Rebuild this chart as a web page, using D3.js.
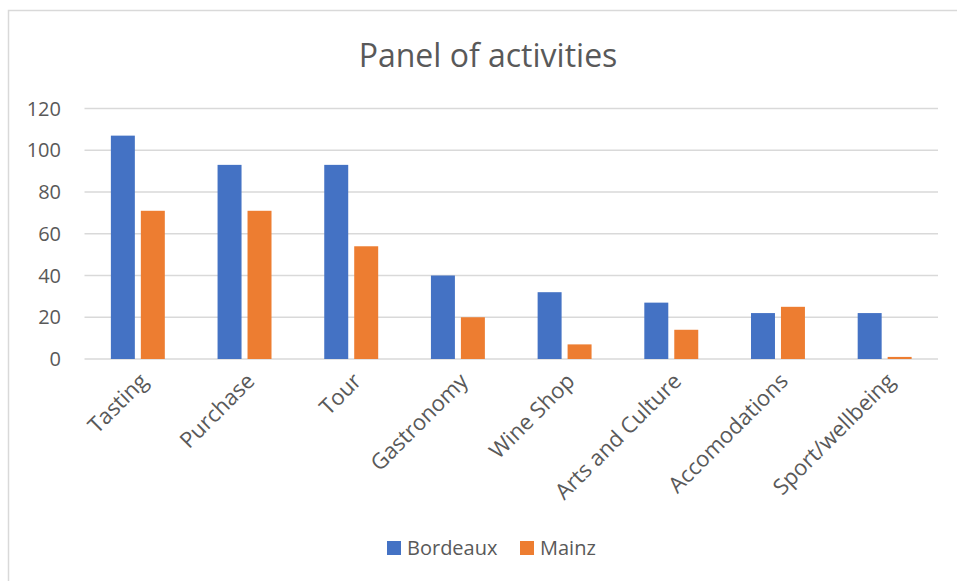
<!DOCTYPE html>
<html>
<head>
<meta charset="utf-8">
<script src="https://cdn.jsdelivr.net/npm/d3@7"></script>
<style>
  body { margin: 0; background: #fff; }
  svg { display: block; font-family: "Open Sans", sans-serif; }
</style>
</head>
<body>
<svg id="chart" width="957" height="581"></svg>
<script>
// données
const categories = ["Tasting", "Purchase", "Tour", "Gastronomy", "Wine Shop", "Arts and Culture", "Accomodations", "Sport/wellbeing"];
const series = ["Bordeaux", "Mainz"];
const bordeaux = [107, 93, 93, 40, 32, 27, 22, 22];
const mainz = [71, 71, 54, 20, 7, 14, 25, 1];
const yTicks = [0, 20, 40, 60, 80, 100, 120];
const colors = ["#4472c4", "#ed7d31"];

const svg = d3.select("#chart");
const textColor = "#595959";
const gridColor = "#d9d9d9";

// cadre du graphique
svg.append("rect")
  .attr("x", 8.5).attr("y", 10.5)
  .attr("width", 960).attr("height", 580)
  .attr("fill", "#fff")
  .attr("stroke", gridColor)
  .attr("stroke-width", 1.5);

svg.append("text")
  .attr("x", 488).attr("y", 67)
  .attr("text-anchor", "middle")
  .attr("fill", textColor)
  .style("font-size", "32px")
  .text("Panel of activities");

const x0 = d3.scaleBand().domain(categories).range([84.5, 938]);
const x1 = d3.scaleBand().domain(series).range([0, x0.bandwidth()]).paddingInner(0.2).paddingOuter(0.88);
const y = d3.scaleLinear().domain([0, 120]).range([359, 108.5]);

// grille horizontale
svg.append("g")
  .selectAll("line")
  .data(yTicks)
  .join("line")
  .attr("x1", 84.5).attr("x2", 938)
  .attr("y1", d => y(d)).attr("y2", d => y(d))
  .attr("stroke", gridColor)
  .attr("stroke-width", 1.5);

svg.append("g")
  .selectAll("text")
  .data(yTicks)
  .join("text")
  .attr("x", 61).attr("y", d => y(d))
  .attr("dy", "0.35em")
  .attr("text-anchor", "end")
  .attr("fill", textColor)
  .style("font-size", "20px")
  .text(d => d);

const rows = categories.map((c, i) => ({ cat: c, values: [bordeaux[i], mainz[i]] }));

svg.append("g")
  .selectAll("g")
  .data(rows)
  .join("g")
  .attr("transform", d => `translate(${x0(d.cat)},0)`)
  .selectAll("rect")
  .data(d => d.values.map((v, j) => ({ s: series[j], v, j })))
  .join("rect")
  .attr("x", d => x1(d.s))
  .attr("width", x1.bandwidth())
  .attr("y", d => y(d.v))
  .attr("height", d => y(0) - y(d.v))
  .attr("fill", d => colors[d.j]);

// étiquettes des catégories inclinées
svg.append("g")
  .selectAll("text")
  .data(categories)
  .join("text")
  .attr("transform", d => `translate(${x0(d) + x0.bandwidth() / 2 + 6},${377}) rotate(-45)`)
  .attr("text-anchor", "end")
  .attr("dy", "0.35em")
  .attr("fill", textColor)
  .style("font-size", "22px")
  .text(d => d);

// légende
const legend = svg.append("g")
  .selectAll("g")
  .data(series)
  .join("g")
  .attr("transform", (d, i) => `translate(${[387, 520][i]},541)`);

legend.append("rect")
  .attr("width", 14).attr("height", 14)
  .attr("fill", (d, i) => colors[i]);

legend.append("text")
  .attr("x", 20).attr("y", 7)
  .attr("dy", "0.35em")
  .attr("fill", textColor)
  .style("font-size", "20px")
  .text(d => d);
</script>
</body>
</html>
